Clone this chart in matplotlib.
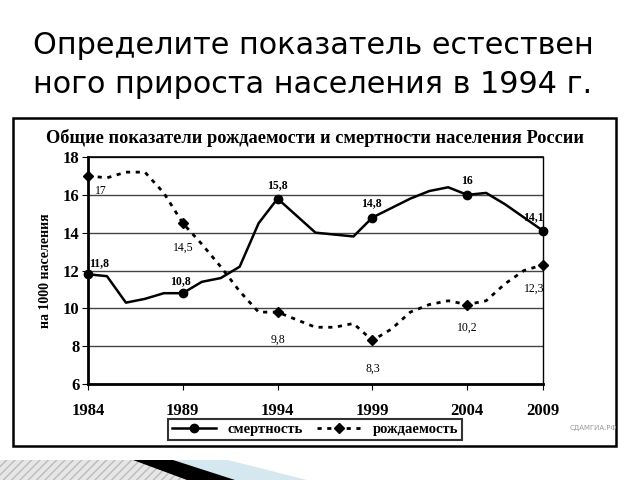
import matplotlib.pyplot as plt
from matplotlib.patches import Rectangle, Polygon
from matplotlib.lines import Line2D

# годы: позиции на оси (категории), подписи только у части
years = list(range(25))
tick_pos = [0, 5, 10, 15, 20, 24]
tick_labels = ["1984", "1989", "1994", "1999", "2004", "2009"]

# смертность на 1000 населения
mortality = [11.8, 11.7, 10.3, 10.5, 10.8, 10.8, 11.4, 11.6, 12.2, 14.5, 15.8,
             14.9, 14.0, 13.9, 13.8, 14.8, 15.3, 15.8, 16.2, 16.4, 16.0,
             16.1, 15.5, 14.8, 14.1]
# рождаемость на 1000 населения
birth = [17.0, 16.9, 17.2, 17.2, 16.1, 14.5, 13.4, 12.2, 10.9, 9.8, 9.8,
         9.4, 9.0, 9.0, 9.2, 8.3, 8.9, 9.8, 10.2, 10.4, 10.2,
         10.4, 11.3, 12.0, 12.3]

mort_marked = [0, 5, 10, 15, 20, 24]
birth_marked = [0, 5, 10, 15, 20, 24]
mort_text = ["11,8", "10,8", "15,8", "14,8", "16", "14,1"]
birth_text = ["17", "14,5", "9,8", "8,3", "10,2", "12,3"]

serif = "Liberation Serif"

fig = plt.figure(figsize=(6.4, 4.8), dpi=100)

# заголовок слайда
fig.text(33 / 640, 1 - 54 / 480, "Определите показатель естествен",
         fontsize=21.8, family="DejaVu Sans", va="baseline")
fig.text(33 / 640, 1 - 93 / 480, "ного прироста населения в 1994 г.",
         fontsize=21.8, family="DejaVu Sans", va="baseline")

# рамка диаграммы
fig.patches.append(Rectangle((13 / 640, 1 - 446 / 480), 603 / 640, 328 / 480,
                             transform=fig.transFigure, fill=False,
                             edgecolor="black", linewidth=1.8))
fig.text(315 / 640, 1 - 138 / 480,
         "Общие показатели рождаемости и смертности населения России",
         ha="center", va="center", fontsize=13.2, fontweight="bold", family=serif)

ax = fig.add_axes([88 / 640, 1 - 384 / 480, 455 / 640, 227 / 480])
ax.set_xlim(0, 24)
ax.set_ylim(6, 18)
ax.set_yticks(range(6, 19, 2))
ax.set_xticks(tick_pos)
ax.set_xticklabels(tick_labels)
for lab in ax.get_xticklabels() + ax.get_yticklabels():
    lab.set_family(serif)
    lab.set_fontweight("bold")
    lab.set_fontsize(12)
ax.tick_params(axis="x", length=4, pad=10, direction="out")
ax.tick_params(axis="y", length=4, pad=2)
ax.grid(axis="y", color="#444444", linewidth=1)
ax.set_axisbelow(True)
for s in ["left", "bottom"]:
    ax.spines[s].set_linewidth(2)
ax.spines["top"].set_linewidth(1.2)
ax.spines["right"].set_linewidth(1)
ax.set_ylabel("на 1000 населения", family=serif, fontweight="bold",
              fontsize=10, labelpad=8)

ax.plot(years, mortality, color="black", linewidth=1.8, clip_on=False)
ax.plot(mort_marked, [mortality[i] for i in mort_marked], "o", color="black",
        markersize=6, clip_on=False)
ax.plot(years, birth, color="black", linewidth=2, linestyle=(0, (1.5, 2)),
        clip_on=False)
ax.plot(birth_marked, [birth[i] for i in birth_marked], "D", color="black",
        markersize=5, clip_on=False)

mort_off = [(8, 8), (-2, 9), (0, 10), (-1, 10), (0, 10), (-7, 10)]
birth_off = [(9, -11), (0, -18), (0, -20), (0, -20), (0, -17), (-6, -17)]
for i, t, (dx, dy) in zip(mort_marked, mort_text, mort_off):
    ax.annotate(t, (i, mortality[i]), xytext=(dx, dy), textcoords="offset points",
                ha="center", va="center", fontsize=8.5, family=serif,
                fontweight="bold", annotation_clip=False)
for i, t, (dx, dy) in zip(birth_marked, birth_text, birth_off):
    ax.annotate(t, (i, birth[i]), xytext=(dx, dy), textcoords="offset points",
                ha="center", va="center", fontsize=8.5, family=serif,
                annotation_clip=False)

handles = [Line2D([], [], color="black", linewidth=1.8, marker="o", markersize=6),
           Line2D([], [], color="black", linewidth=2, linestyle=(0, (1.5, 2)),
                  marker="D", markersize=5)]
leg = fig.legend(handles, ["смертность", "рождаемость"], ncol=2,
                 loc="lower left", bbox_to_anchor=(161 / 640, 1 - 447 / 480, 308 / 640, 23 / 480),
                 mode="expand", prop={"family": serif, "weight": "bold", "size": 10.5},
                 frameon=True, fancybox=False, edgecolor="black", handlelength=3,
                 borderpad=0.25, columnspacing=1.5)
leg.get_frame().set_linewidth(1.5)

fig.text(570 / 640, 1 - 428 / 480, "СДАМГИА.РФ", fontsize=5, color="#999999",
         family="DejaVu Sans", va="center")

# декоративные элементы слайда внизу
fig.patches.append(Rectangle((0, 0), 200 / 640, 20 / 480, transform=fig.transFigure,
                             facecolor="#e6e6e6", edgecolor="#bbbbbb", hatch="////",
                             linewidth=0))
fig.patches.append(Polygon([(173 / 640, 20 / 480), (228 / 640, 20 / 480),
                            (307 / 640, 0), (233 / 640, 0)],
                           transform=fig.transFigure, facecolor="#d5e8ef",
                           edgecolor="none"))
fig.patches.append(Polygon([(133 / 640, 20 / 480), (173 / 640, 20 / 480),
                            (235 / 640, 0), (187 / 640, 0)],
                           transform=fig.transFigure, facecolor="black",
                           edgecolor="none"))

fig.savefig("out.png", dpi=100)
